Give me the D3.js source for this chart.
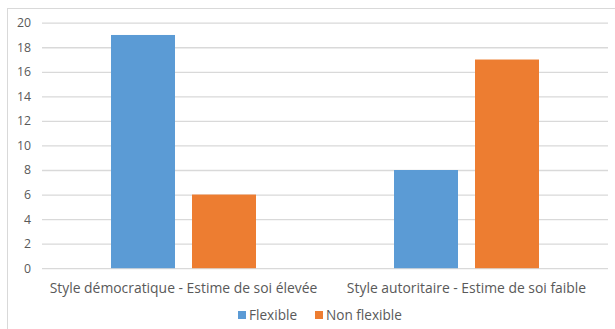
<!DOCTYPE html>
<html><head><meta charset="utf-8">
<script src="https://d3js.org/d3.v7.min.js"></script>
<style>body{margin:0;background:#fff}svg{display:block}text{font-family:"Open Sans",sans-serif}</style>
</head><body>
<script>
const categories = ["Style démocratique - Estime de soi élevée", "Style autoritaire - Estime de soi faible"];
const seriesNames = ["Flexible", "Non flexible"];
const flexible = [19, 8];
const nonFlexible = [6, 17];
const yTicks = [0, 2, 4, 6, 8, 10, 12, 14, 16, 18, 20];
const colors = ["#5b9bd5", "#ed7d31"];

const W = 615, H = 329;
const svg = d3.select("body").append("svg").attr("width", W).attr("height", H);
svg.append("rect").attr("x", 7.5).attr("y", 8.5).attr("width", 620).attr("height", 340)
  .attr("fill", "#fff").attr("stroke", "#d9d9d9");

const pLeft = 42, pRight = 608, pTop = 22.7, pBottom = 268.2;
const y = d3.scaleLinear().domain([0, 20]).range([pBottom, pTop]);
const x0 = d3.scaleBand().domain(categories).range([pLeft, pRight]).paddingInner(0).paddingOuter(0);
const x1 = d3.scaleBand().domain(seriesNames).range([0, x0.bandwidth()]).paddingInner(0.21).paddingOuter(0.852);

const yAxis = d3.axisLeft(y).tickValues(yTicks).tickSize(-(pRight - pLeft)).tickPadding(11);
const gy = svg.append("g").attr("transform", `translate(${pLeft},0)`).call(yAxis);
gy.select(".domain").remove();
gy.selectAll(".tick line").attr("stroke", "#d9d9d9").attr("stroke-width", 1.3);
gy.selectAll(".tick text").attr("fill", "#595959").attr("font-size", 12.3).attr("x", -11);

const data = categories.map((c, i) => ({c, vals: [flexible[i], nonFlexible[i]]}));
const g = svg.append("g");
data.forEach(d => {
  d.vals.forEach((v, j) => {
    g.append("rect")
      .attr("x", x0(d.c) + x1(seriesNames[j]))
      .attr("y", y(v))
      .attr("width", x1.bandwidth())
      .attr("height", y(0) - y(v))
      .attr("fill", colors[j]);
  });
});

const xAxis = d3.axisBottom(x0).tickSize(0).tickPadding(15);
const gx = svg.append("g").attr("transform", `translate(0,${pBottom})`).call(xAxis);
gx.select(".domain").remove();
gx.selectAll(".tick text").attr("fill", "#595959").attr("font-size", 13.9);

const leg = svg.append("g");
const legX = [238, 315];
seriesNames.forEach((s, i) => {
  leg.append("rect").attr("x", legX[i]).attr("y", 311).attr("width", 8).attr("height", 8).attr("fill", colors[i]);
  leg.append("text").attr("x", legX[i] + 11).attr("y", 320).attr("font-size", 13.6).attr("fill", "#595959").text(s);
});
</script>
</body></html>
